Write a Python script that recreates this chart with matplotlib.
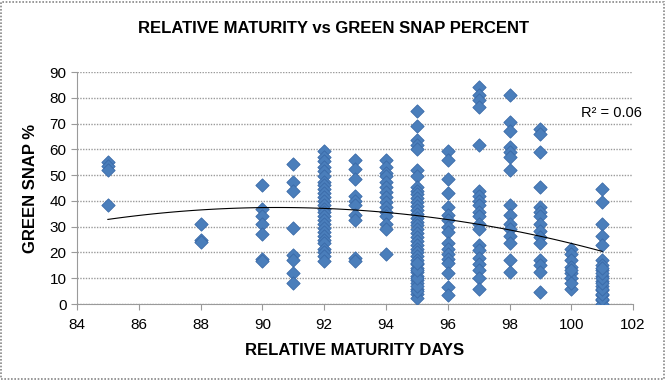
import matplotlib
matplotlib.use('Agg')
import matplotlib.pyplot as plt
import numpy as np
from matplotlib.patches import Rectangle

plt.rcParams['font.family'] = ['Liberation Sans', 'DejaVu Sans']

# green snap % per relative maturity (days)
days = [85, 88, 90, 91, 92, 93, 94, 95, 96, 97, 98, 99, 100, 101]
snap = {
    85: [55, 53.5, 52, 38.5],
    88: [31, 25, 24],
    90: [46, 37, 34, 31, 27, 17.5, 16.5],
    91: [54.5, 47.5, 44, 29.5, 19, 17, 12, 8],
    92: [59.5, 57, 55.5, 53, 51.5, 49.5, 47.5, 46, 44.5, 43, 41.5, 40, 38.5, 37,
         35.5, 34, 32.5, 31, 29.5, 28, 26.5, 25, 23.5, 21.5, 20, 18.5, 16.5],
    93: [56, 52.5, 48.5, 42, 40, 38.5, 34.5, 32.5, 18, 16.5],
    94: [56, 53, 51, 49.5, 47.5, 45.5, 43.5, 41.5, 39.5, 37.5, 35.5, 34, 31, 29, 19.5],
    95: [75, 69, 63.5, 61.5, 60, 52, 49.5, 45.5, 44, 42.5, 41, 39.5, 38, 36.5, 35,
         33.5, 32, 30.5, 29, 27.5, 26, 24.5, 23, 21.5, 20, 18.5, 17, 15.5, 14,
         12.5, 11, 9.5, 8, 6, 4, 2.5, 5, 7, 10, 13, 16],
    96: [59.5, 56, 48.5, 43, 37.5, 34.5, 32.5, 30, 28, 23.5, 21.5, 19.5, 17.5, 16,
         12, 6.5, 3.5],
    97: [84, 81, 79, 76.5, 61.5, 44, 42, 40, 38.5, 35.5, 34, 31, 29, 23, 21, 18,
         15.5, 13, 10, 6],
    98: [81, 70.5, 67, 61, 59, 57, 52, 38.5, 34.5, 31, 29, 26.5, 23.5, 17, 12.5],
    99: [68, 66, 59, 45.5, 37.5, 35.5, 34, 31, 28.5, 26, 23.5, 17, 15, 12.5, 4.5],
    100: [21.5, 19.5, 17, 14.5, 12, 10, 6, 8, 13],
    101: [44.5, 39.5, 31, 26.5, 23, 17, 15, 13, 11, 9, 7, 5.5, 3.5, 1.5, 0,
          2, 4, 6, 8, 10, 12, 14],
}
r2_text = 'R² = 0.06'

xs = np.concatenate([[d] * len(snap[d]) for d in days])
ys = np.concatenate([snap[d] for d in days])

fig = plt.figure(figsize=(6.66, 3.80), dpi=100)
ax = fig.add_axes([0.1156, 0.2, 0.835, 0.6105])

ax.scatter(xs, ys, marker='D', s=46, color='#4A7EBB', edgecolor='#3A6AA8',
           linewidth=0.6, zorder=3)

# 2nd order trendline
coef = np.polyfit(xs, ys, 2)
tx = np.linspace(85, 101, 100)
ax.plot(tx, np.polyval(coef, tx), color='black', lw=0.8, zorder=4)
ax.text(100.3, 74, r2_text, fontsize=10.5, ha='left', va='center')

ax.set_xlim(84, 102)
ax.set_ylim(0, 90)
ax.set_xticks(np.arange(84, 103, 2))
ax.set_yticks(np.arange(0, 91, 10))
ax.yaxis.grid(True, color='#9a9a9a', linestyle=(0, (1, 1)), linewidth=1)
ax.set_axisbelow(True)
for s in ['top', 'right']:
    ax.spines[s].set_visible(False)
for s in ['left', 'bottom']:
    ax.spines[s].set_color('#9a9a9a')
    ax.spines[s].set_linestyle((0, (1, 1)))
ax.tick_params(axis='x', colors='#9a9a9a', labelcolor='black', length=4, labelsize=11, pad=6)
ax.tick_params(axis='y', colors='#9a9a9a', labelcolor='black', length=4, labelsize=11)

ax.set_xlabel('RELATIVE MATURITY DAYS', fontsize=12, fontweight='bold', labelpad=8)
ax.set_ylabel('GREEN SNAP %', fontsize=12, fontweight='bold', labelpad=8)
fig.text(0.5, 0.925, 'RELATIVE MATURITY vs GREEN SNAP PERCENT', ha='center', va='center',
         fontsize=12, fontweight='bold')

fig.patches.append(Rectangle((0.002, 0.003), 0.995, 0.993, transform=fig.transFigure,
                             fill=False, edgecolor='#888888', linestyle=(0, (1, 1)), lw=1.2))

fig.savefig('out.png', dpi=100)
